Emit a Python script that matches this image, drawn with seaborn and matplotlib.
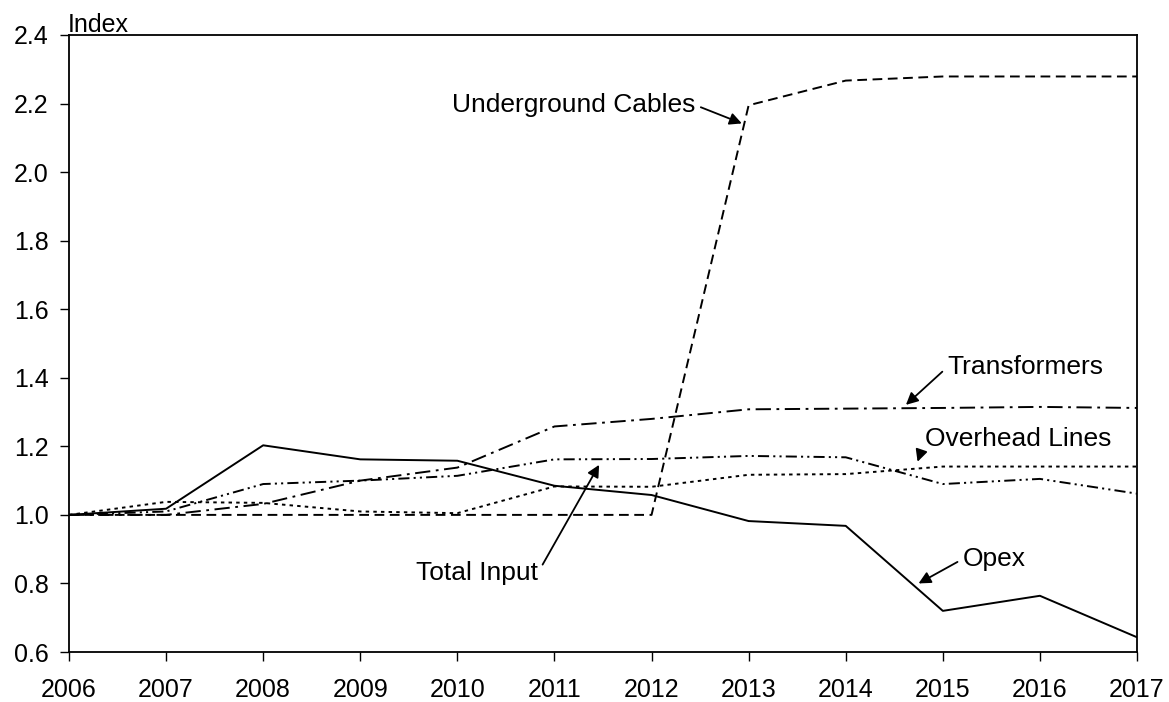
import matplotlib
matplotlib.use("Agg")
import matplotlib.pyplot as plt
import seaborn as sns
import pandas as pd

years = [2006, 2007, 2008, 2009, 2010, 2011, 2012, 2013, 2014, 2015, 2016, 2017]
opex = [1.0, 1.018, 1.203, 1.162, 1.158, 1.085, 1.058, 0.982, 0.968, 0.72, 0.764, 0.643]
underground_cables = [1.0, 1.0, 1.0, 1.0, 1.0, 1.0, 1.0, 2.195, 2.267, 2.279, 2.279, 2.279]
transformers = [1.0, 1.0, 1.032, 1.10, 1.138, 1.258, 1.28, 1.308, 1.31, 1.312, 1.315, 1.312]
overhead_lines = [1.0, 1.038, 1.035, 1.01, 1.005, 1.083, 1.082, 1.117, 1.119, 1.141, 1.141, 1.141]
total_input = [1.0, 1.01, 1.09, 1.10, 1.114, 1.162, 1.163, 1.172, 1.168, 1.09, 1.105, 1.062]
y_ticks = [0.6, 0.8, 1.0, 1.2, 1.4, 1.6, 1.8, 2.0, 2.2, 2.4]

sns.set_theme(style="ticks")
plt.rcParams["font.family"] = ["Liberation Sans", "DejaVu Sans"]
plt.rcParams["lines.scale_dashes"] = False
plt.rcParams["text.color"] = "black"
plt.rcParams["axes.labelcolor"] = "black"

fig = plt.figure(figsize=(11.69, 7.02), dpi=100)
ax = fig.add_axes([69 / 1169, 1 - 652 / 702, (1137 - 69) / 1169, (652 - 35) / 702])

series = [
    ("Opex", opex, None),
    ("Underground Cables", underground_cables, (0, (7, 4))),
    ("Transformers", transformers, (0, (11, 4, 2, 4))),
    ("Overhead Lines", overhead_lines, (0, (2.5, 3))),
    ("Total Input", total_input, (0, (8, 3, 1.5, 3, 1.5, 3))),
]
for name, vals, ls in series:
    df = pd.DataFrame({"Year": years, "Index": vals})
    kw = {} if ls is None else {"linestyle": ls}
    sns.lineplot(data=df, x="Year", y="Index", ax=ax, color="black", lw=1.4, **kw)

ax.set_xlim(2006, 2017)
ax.set_ylim(0.6, 2.4)
ax.set_xticks(years)
ax.set_xticklabels([str(y) for y in years])
ax.set_yticks(y_ticks)
ax.set_yticklabels([f"{v:.1f}" for v in y_ticks])
ax.set_xlabel("")
ax.set_ylabel("")
for s in ax.spines.values():
    s.set_visible(True)
    s.set_color("black")
    s.set_linewidth(1.3)
ax.tick_params(axis="both", direction="out", length=6.5, width=1.0, color="black",
               labelsize=18, labelcolor="black")
ax.tick_params(axis="y", pad=8)
ax.tick_params(axis="x", pad=12)

ax.annotate("Index", xy=(0, 1), xycoords="axes fraction", xytext=(-1, 3),
            textcoords="offset pixels", va="baseline", ha="left", fontsize=18)

arrow = dict(arrowstyle="-|>", color="black", lw=1.3, mutation_scale=18, shrinkA=2, shrinkB=0)
fs = 19
ax.annotate("Underground Cables", xy=(2012.93, 2.142), xytext=(2012.447, 2.196),
            ha="right", va="center", fontsize=fs,
            arrowprops=dict(arrow, relpos=(1, 0.5)))
ax.annotate("Transformers", xy=(2014.62, 1.321), xytext=(2015.05, 1.432),
            ha="left", va="center", fontsize=fs,
            arrowprops=dict(arrow, relpos=(0, 0.5)))
ax.annotate("Overhead Lines", xy=(2014.74, 1.155), xytext=(2014.82, 1.2215),
            ha="left", va="center", fontsize=fs,
            arrowprops=dict(arrow, relpos=(0, 0.5)))
ax.annotate("Opex", xy=(2014.75, 0.80), xytext=(2015.21, 0.872),
            ha="left", va="center", fontsize=fs,
            arrowprops=dict(arrow, relpos=(0, 0.5)))
ax.annotate("Total Input", xy=(2011.46, 1.146), xytext=(2010.83, 0.831),
            ha="right", va="center", fontsize=fs,
            arrowprops=dict(arrow, relpos=(1, 0.5)))

fig.savefig("out.png", dpi=100)
